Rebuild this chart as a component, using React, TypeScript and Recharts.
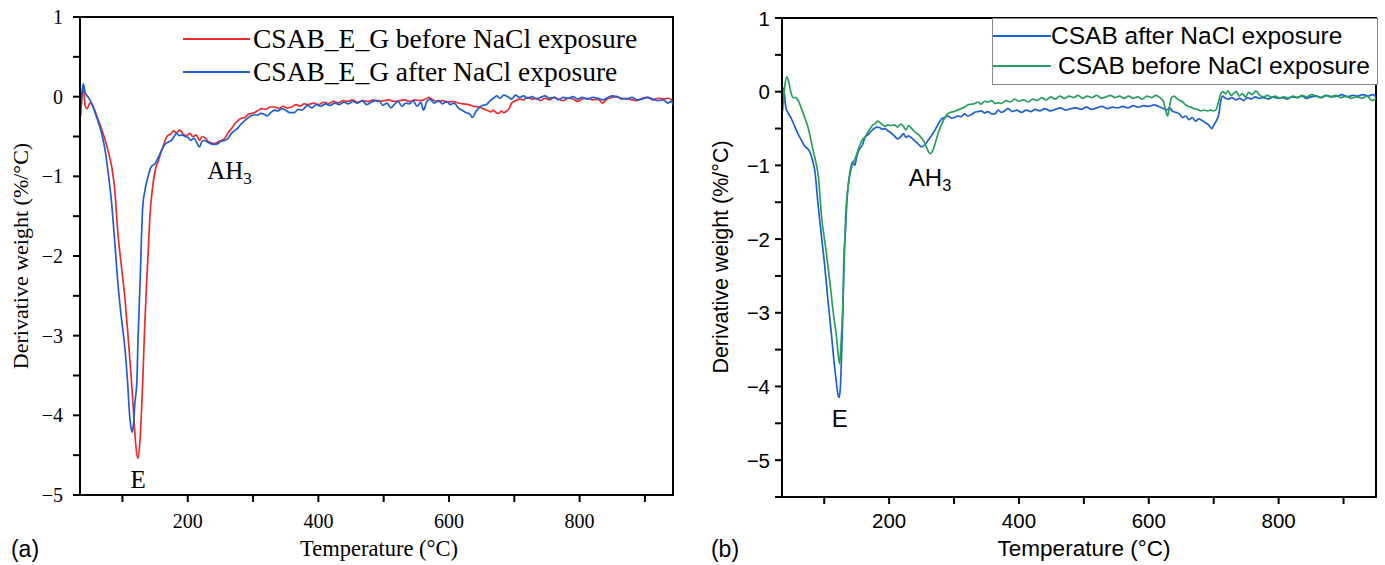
import React from "react";
import { LineChart, Line, XAxis, YAxis, ReferenceArea, ReferenceDot, Legend } from "recharts";

// (a) CSAB_E_G, [temperature °C, derivative weight %/°C]
const aBefore: [number, number][] = [
  [37, -0.1], [40, 0.12], [43, -0.12], [46, -0.15], [50, -0.08], [53, -0.09], [57, -0.16], [62, -0.27],
  [67, -0.38], [73, -0.53], [78, -0.68], [84, -0.9], [88, -1.15], [93, -1.71], [98, -2.1], [104, -2.55],
  [109, -3.05], [114, -3.59], [118, -4.1], [121, -4.42], [124, -4.54], [127, -4.3], [131, -3.59], [134, -2.9],
  [137, -2.34], [140, -1.85], [142, -1.51], [146, -1.15], [150, -0.93], [155, -0.8], [160, -0.68], [165, -0.56],
  [169, -0.49], [174, -0.47], [178, -0.43], [183, -0.45], [188, -0.42], [193, -0.47], [198, -0.49], [203, -0.46],
  [208, -0.5], [213, -0.48], [218, -0.55], [222, -0.5], [227, -0.52], [232, -0.57], [237, -0.58], [241, -0.59],
  [246, -0.57], [251, -0.55], [256, -0.53], [262, -0.45], [267, -0.4], [272, -0.34], [277, -0.3], [282, -0.27],
  [288, -0.26], [293, -0.22], [298, -0.21], [302, -0.2], [308, -0.17], [313, -0.15], [320, -0.16], [326, -0.13],
  [333, -0.13], [340, -0.15], [346, -0.12], [352, -0.14], [359, -0.13], [366, -0.1], [372, -0.12], [378, -0.09],
  [385, -0.1], [392, -0.08], [400, -0.1], [408, -0.07], [415, -0.09], [423, -0.06], [430, -0.08], [438, -0.05],
  [445, -0.06], [452, -0.04], [460, -0.07], [468, -0.05], [476, -0.06], [484, -0.04], [492, -0.06], [500, -0.05],
  [508, -0.04], [516, -0.06], [524, -0.05], [532, -0.04], [540, -0.06], [548, -0.04], [556, -0.05], [564, -0.03],
  [569, -0.01], [575, -0.04], [582, -0.06], [590, -0.05], [598, -0.07], [606, -0.06], [614, -0.08], [622, -0.09],
  [630, -0.1], [638, -0.12], [646, -0.13], [652, -0.15], [658, -0.17], [664, -0.19], [668, -0.17], [672, -0.2],
  [676, -0.21], [680, -0.18], [684, -0.2], [688, -0.18], [692, -0.15], [696, -0.08], [702, -0.05], [708, -0.03],
  [714, -0.04], [720, -0.01], [727, -0.03], [734, -0.02], [740, -0.05], [747, -0.02], [754, -0.04], [761, -0.01],
  [768, -0.03], [775, -0.05], [782, -0.02], [790, -0.03], [797, -0.06], [804, -0.03], [812, -0.02], [820, -0.04],
  [828, -0.03], [835, -0.08], [842, -0.03], [850, -0.01], [857, 0], [864, -0.03], [872, -0.02], [880, -0.04],
  [888, -0.05], [896, -0.02], [904, -0.01], [912, -0.04], [920, -0.02], [928, -0.03], [936, -0.02], [942, -0.05],
];

const aAfter: [number, number][] = [
  [36, -0.24], [38, 0.05], [40, 0.16], [43, 0.05], [47, 0.0], [52, -0.07], [58, -0.2], [63, -0.32],
  [69, -0.49], [74, -0.7], [78, -0.95], [83, -1.3], [88, -1.8], [93, -2.34], [98, -2.75], [104, -3.18],
  [108, -3.6], [111, -4.0], [113, -4.15], [115, -4.21], [117, -4.1], [119, -3.85], [122, -3.59], [124, -3.0],
  [127, -2.34], [129, -1.8], [131, -1.39], [135, -1.15], [139, -1.01], [144, -0.88], [150, -0.84], [155, -0.76],
  [160, -0.67], [165, -0.6], [170, -0.57], [175, -0.55], [179, -0.5], [183, -0.46], [187, -0.49], [191, -0.48],
  [196, -0.5], [200, -0.51], [205, -0.55], [209, -0.52], [214, -0.58], [218, -0.63], [222, -0.56], [226, -0.55],
  [230, -0.57], [235, -0.59], [240, -0.6], [246, -0.59], [251, -0.56], [256, -0.55], [261, -0.53], [266, -0.47],
  [271, -0.43], [276, -0.4], [281, -0.35], [286, -0.31], [292, -0.27], [297, -0.24], [302, -0.23], [307, -0.23],
  [312, -0.21], [317, -0.22], [322, -0.24], [327, -0.2], [333, -0.17], [338, -0.18], [344, -0.15], [350, -0.17],
  [356, -0.2], [363, -0.2], [369, -0.16], [375, -0.17], [383, -0.11], [390, -0.14], [397, -0.1], [404, -0.12],
  [411, -0.09], [418, -0.11], [425, -0.08], [432, -0.1], [439, -0.07], [446, -0.09], [453, -0.06], [460, -0.08],
  [467, -0.05], [474, -0.1], [481, -0.07], [488, -0.05], [493, -0.05], [499, -0.11], [505, -0.08], [511, -0.14],
  [516, -0.1], [522, -0.06], [528, -0.12], [534, -0.08], [539, -0.09], [545, -0.05], [551, -0.12], [557, -0.07],
  [561, -0.17], [566, -0.06], [571, -0.03], [577, -0.08], [584, -0.05], [590, -0.09], [596, -0.06], [602, -0.1],
  [608, -0.08], [614, -0.14], [620, -0.17], [626, -0.2], [632, -0.22], [636, -0.26], [641, -0.19], [646, -0.14],
  [651, -0.11], [657, -0.1], [663, -0.05], [668, -0.02], [673, 0.01], [678, -0.02], [684, 0.02], [690, 0.0],
  [696, -0.03], [702, 0.02], [708, -0.01], [714, 0.01], [720, -0.02], [727, 0.0], [734, -0.03], [740, -0.01],
  [747, 0.01], [754, -0.02], [761, -0.01], [768, -0.04], [775, -0.01], [782, -0.02], [790, 0.0], [797, -0.03],
  [804, -0.01], [812, -0.03], [820, -0.01], [828, -0.02], [836, -0.04], [843, -0.01], [850, 0.01], [857, 0.0],
  [864, -0.02], [872, -0.03], [880, -0.01], [888, -0.04], [896, -0.03], [904, -0.01], [912, -0.03], [920, -0.05],
  [928, -0.04], [935, -0.08], [940, -0.06], [944, -0.11],
];

// (b) CSAB
const bAfter: [number, number][] = [
  [36, 0.06], [38, 0.02], [41, -0.22], [44, -0.28], [49, -0.36], [55, -0.48], [60, -0.58], [65, -0.66],
  [70, -0.74], [74, -0.77], [78, -0.82], [82, -0.93], [86, -1.1], [90, -1.48], [95, -1.9], [101, -2.38],
  [106, -2.85], [111, -3.28], [115, -3.65], [119, -3.96], [121, -4.1], [123, -4.15], [125, -4.0], [127, -3.51],
  [129, -2.9], [130, -2.38], [133, -1.85], [135, -1.48], [138, -1.2], [141, -1.03], [144, -0.95], [147, -1.0],
  [151, -0.85], [155, -0.77], [159, -0.72], [163, -0.62], [168, -0.58], [173, -0.53], [177, -0.5], [181, -0.48],
  [186, -0.49], [190, -0.51], [194, -0.5], [198, -0.53], [203, -0.56], [208, -0.6], [213, -0.64], [218, -0.61],
  [222, -0.57], [226, -0.62], [230, -0.6], [235, -0.63], [240, -0.67], [245, -0.71], [250, -0.75], [255, -0.72],
  [260, -0.66], [265, -0.6], [270, -0.53], [275, -0.45], [281, -0.37], [286, -0.35], [291, -0.33], [296, -0.36],
  [301, -0.35], [306, -0.33], [311, -0.34], [316, -0.3], [321, -0.33], [327, -0.31], [332, -0.28], [337, -0.27],
  [342, -0.26], [347, -0.29], [352, -0.27], [358, -0.3], [363, -0.3], [368, -0.25], [373, -0.28], [378, -0.26],
  [383, -0.23], [390, -0.27], [397, -0.25], [404, -0.28], [411, -0.25], [418, -0.27], [425, -0.24], [432, -0.26],
  [440, -0.23], [448, -0.26], [456, -0.24], [464, -0.22], [472, -0.25], [480, -0.23], [488, -0.22], [496, -0.24],
  [504, -0.21], [512, -0.24], [520, -0.22], [528, -0.2], [536, -0.23], [544, -0.21], [552, -0.22], [560, -0.2],
  [568, -0.22], [576, -0.19], [584, -0.21], [592, -0.19], [600, -0.2], [608, -0.18], [615, -0.2], [621, -0.22],
  [627, -0.25], [632, -0.22], [637, -0.27], [642, -0.28], [647, -0.3], [652, -0.35], [657, -0.33], [662, -0.38],
  [667, -0.35], [672, -0.4], [677, -0.37], [682, -0.39], [687, -0.42], [692, -0.45], [697, -0.5], [701, -0.44],
  [705, -0.38], [708, -0.3], [711, -0.12], [714, -0.06], [718, -0.09], [723, -0.1], [728, -0.08], [734, -0.11],
  [740, -0.09], [746, -0.12], [752, -0.08], [758, -0.1], [764, -0.07], [770, -0.09], [777, -0.08], [784, -0.1],
  [791, -0.07], [798, -0.09], [806, -0.08], [813, -0.1], [820, -0.07], [828, -0.08], [836, -0.06], [843, -0.09],
  [850, -0.07], [858, -0.06], [866, -0.08], [874, -0.05], [882, -0.07], [890, -0.06], [898, -0.04], [906, -0.07],
  [914, -0.05], [922, -0.06], [930, -0.04], [938, -0.06], [945, -0.04], [950, -0.07],
];

const bBefore: [number, number][] = [
  [36, -0.26], [39, 0.05], [42, 0.2], [45, 0.15], [49, -0.02], [52, -0.08], [56, -0.08], [60, -0.12],
  [65, -0.23], [70, -0.35], [75, -0.48], [79, -0.63], [83, -0.8], [87, -0.95], [91, -1.15], [96, -1.7],
  [102, -2.1], [109, -2.6], [114, -3.0], [119, -3.33], [122, -3.6], [124, -3.69], [126, -3.4], [129, -2.83],
  [131, -2.25], [133, -1.7], [136, -1.35], [140, -1.11], [144, -0.98], [148, -0.9], [152, -0.8], [156, -0.7],
  [160, -0.64], [164, -0.6], [167, -0.55], [171, -0.5], [175, -0.45], [178, -0.44], [182, -0.4], [186, -0.42],
  [190, -0.45], [194, -0.47], [198, -0.45], [203, -0.46], [208, -0.45], [213, -0.48], [218, -0.44], [222, -0.47],
  [226, -0.52], [230, -0.46], [235, -0.5], [240, -0.55], [245, -0.58], [250, -0.63], [254, -0.68], [258, -0.76],
  [261, -0.82], [264, -0.84], [268, -0.78], [272, -0.67], [276, -0.55], [281, -0.44], [286, -0.35], [290, -0.3],
  [295, -0.28], [300, -0.27], [305, -0.25], [311, -0.23], [316, -0.21], [321, -0.18], [327, -0.17], [332, -0.16],
  [337, -0.14], [342, -0.17], [347, -0.13], [352, -0.14], [358, -0.12], [363, -0.16], [368, -0.15], [373, -0.16],
  [380, -0.12], [387, -0.14], [393, -0.1], [400, -0.13], [407, -0.11], [414, -0.14], [421, -0.1], [428, -0.12],
  [435, -0.08], [442, -0.11], [449, -0.07], [456, -0.1], [463, -0.06], [470, -0.09], [477, -0.06], [484, -0.08],
  [491, -0.05], [498, -0.09], [505, -0.06], [512, -0.08], [520, -0.05], [527, -0.09], [534, -0.07], [541, -0.05],
  [548, -0.08], [555, -0.06], [562, -0.09], [569, -0.06], [576, -0.09], [583, -0.07], [590, -0.1], [597, -0.06],
  [604, -0.08], [611, -0.05], [617, -0.08], [622, -0.12], [626, -0.25], [629, -0.33], [632, -0.2], [635, -0.08],
  [639, -0.06], [643, -0.09], [648, -0.12], [652, -0.14], [657, -0.18], [661, -0.2], [665, -0.21], [670, -0.23],
  [675, -0.24], [680, -0.26], [685, -0.25], [690, -0.26], [695, -0.25], [700, -0.26], [704, -0.24], [707, -0.15],
  [710, -0.05], [714, 0.0], [718, -0.03], [722, 0.01], [727, -0.05], [731, -0.02], [735, 0.0], [739, -0.06],
  [744, -0.03], [749, -0.07], [754, -0.01], [759, -0.04], [765, 0.01], [771, -0.05], [777, -0.07], [783, -0.05],
  [789, -0.08], [795, -0.06], [801, -0.09], [808, -0.07], [815, -0.09], [822, -0.06], [829, -0.08], [836, -0.05],
  [843, -0.07], [851, -0.04], [858, -0.06], [865, -0.08], [872, -0.05], [880, -0.07], [888, -0.05], [896, -0.08],
  [904, -0.06], [912, -0.09], [920, -0.07], [928, -0.09], [936, -0.06], [944, -0.12], [950, -0.09],
];

const xTicks = [100, 200, 300, 400, 500, 600, 700, 800, 900];
const yTicksA = [-5, -4.5, -4, -3.5, -3, -2.5, -2, -1.5, -1, -0.5, 0, 0.5, 1];
const yTicksB = [-5.5, -5, -4.5, -4, -3.5, -3, -2.5, -2, -1.5, -1, -0.5, 0, 0.5, 1];

const RED = "#ee2a2c";
const BLUE = "#1d5fd6";
const GREEN = "#27a05c";
const SERIF = "'Liberation Serif', 'Times New Roman', serif";
const SANS = "'Liberation Sans', Arial, sans-serif";

const toRows = (pts: [number, number][]) => pts.map(([t, v]) => ({ t, v }));
const fmtX = (v: number) => (v % 200 === 0 ? String(v) : "");
const fmtY = (v: number) => (Number.isInteger(v) ? (v < 0 ? "\u2212" + Math.abs(v) : String(v)) : "");

type Series = { name: string; color: string; pts: [number, number][] };

function LegendA({ items }: { items: Series[] }) {
  return (
    <div style={{ fontFamily: SERIF, fontSize: 27.5, color: "#000" }}>
      {items.map((s) => (
        <div key={s.name} style={{ display: "flex", alignItems: "center", height: 33, whiteSpace: "nowrap" }}>
          <svg width={67} height={4}><line x1={0} y1={2} x2={67} y2={2} stroke={s.color} strokeWidth={2} /></svg>
          <span style={{ marginLeft: 3 }}>{s.name}</span>
        </div>
      ))}
    </div>
  );
}

function LegendB({ items }: { items: Series[] }) {
  return (
    <div style={{ fontFamily: SANS, fontSize: 24.5, color: "#000", border: "1px solid #8a8a8a", width: 384, height: 63, padding: "2px 0 0 0", boxSizing: "content-box", background: "#fff" }}>
      {items.map((s, i) => (
        <div key={s.name} style={{ display: "flex", alignItems: "center", height: 30, whiteSpace: "nowrap" }}>
          <svg width={58} height={4}><line x1={0} y1={2} x2={58} y2={2} stroke={s.color} strokeWidth={2} /></svg>
          <span style={{ marginLeft: i === 0 ? 0 : 7 }}>{s.name}</span>
        </div>
      ))}
    </div>
  );
}

function Annot({ cx, cy, font, size, sub }: { cx: number; cy: number; font: string; size: number; sub?: boolean }) {
  return (
    <text x={cx} y={cy} textAnchor="middle" dominantBaseline="central" fontFamily={font} fontSize={size} fill="#000">
      {sub ? "AH" : "E"}
      {sub ? <tspan dy={7} fontSize={size * 0.68}>3</tspan> : null}
    </text>
  );
}

type PanelProps = {
  width: number;
  height: number;
  margin: { top: number; right: number; bottom: number; left: number };
  yWidth: number;
  xHeight: number;
  xDomain: [number, number];
  yDomain: [number, number];
  yTicks: number[];
  font: string;
  tickSize: number;
  xTickDy: number;
  yTickDx: number;
  series: Series[];
  legend: React.ReactNode;
  legendPos: { left: number; top: number };
  ahPos: [number, number];
  ePos: [number, number];
  annotSize: number;
};

function Panel(p: PanelProps) {
  const xTick = (t: any) => (
    <text x={t.x} y={t.y + p.xTickDy} textAnchor="middle" fontFamily={p.font} fontSize={p.tickSize} fill="#000">
      {fmtX(t.payload.value)}
    </text>
  );
  const yTick = (t: any) => (
    <text x={t.x - p.yTickDx} y={t.y} textAnchor="end" dominantBaseline="central" fontFamily={p.font} fontSize={p.tickSize} fill="#000">
      {fmtY(t.payload.value)}
    </text>
  );
  return (
    <LineChart width={p.width} height={p.height} margin={p.margin}>
      <XAxis
        type="number"
        dataKey="t"
        domain={p.xDomain}
        allowDataOverflow
        ticks={xTicks}
        interval={0}
        tick={xTick}
        tickSize={7}
        tickMargin={0}
        height={p.xHeight}
        stroke="#000"
        strokeWidth={2}
      />
      <YAxis
        type="number"
        domain={p.yDomain}
        allowDataOverflow
        ticks={p.yTicks}
        interval={0}
        tick={yTick}
        tickSize={7}
        tickMargin={0}
        width={p.yWidth}
        stroke="#000"
        strokeWidth={2}
      />
      <ReferenceArea x1={p.xDomain[0]} x2={p.xDomain[1]} y1={p.yDomain[0]} y2={p.yDomain[1]} fill="none" stroke="#000" strokeWidth={2} ifOverflow="visible" />
      {p.series.map((s) => (
        <Line
          key={s.name}
          data={toRows(s.pts)}
          dataKey="v"
          name={s.name}
          type="monotone"
          stroke={s.color}
          strokeWidth={1.7}
          dot={false}
          isAnimationActive={false}
        />
      ))}
      <ReferenceDot x={p.ahPos[0]} y={p.ahPos[1]} r={0} shape={(d: any) => <Annot cx={d.cx} cy={d.cy} font={p.font} size={p.annotSize} sub />} />
      <ReferenceDot x={p.ePos[0]} y={p.ePos[1]} r={0} shape={(d: any) => <Annot cx={d.cx} cy={d.cy} font={p.font} size={p.annotSize} />} />
      <Legend
        layout="vertical"
        align="center"
        verticalAlign="middle"
        content={() => p.legend}
        wrapperStyle={{ left: p.legendPos.left, top: p.legendPos.top, width: "auto" }}
      />
    </LineChart>
  );
}

const seriesA: Series[] = [
  { name: "CSAB_E_G before NaCl exposure", color: RED, pts: aBefore },
  { name: "CSAB_E_G after NaCl exposure", color: BLUE, pts: aAfter },
];
const seriesB: Series[] = [
  { name: "CSAB after NaCl exposure", color: BLUE, pts: bAfter },
  { name: "CSAB before NaCl exposure", color: GREEN, pts: bBefore },
];

const abs = (left: number, top: number, font: string, size: number): React.CSSProperties => ({
  position: "absolute", left, top, fontFamily: font, fontSize: size, color: "#000", whiteSpace: "nowrap", lineHeight: 1,
});

export default function App() {
  return (
    <div style={{ position: "absolute", left: 0, top: 0, width: 1385, height: 565, background: "#fff", overflow: "hidden" }}>
      <div style={{ position: "absolute", left: 0, top: 0 }}>
        <Panel
          width={690}
          height={565}
          margin={{ top: 17, right: 17, bottom: 0, left: 0 }}
          yWidth={80}
          xHeight={70}
          xDomain={[35, 943]}
          yDomain={[-5, 1]}
          yTicks={yTicksA}
          font={SERIF}
          tickSize={20}
          xTickDy={26}
          yTickDx={10}
          series={seriesA}
          legend={<LegendA items={seriesA} />}
          legendPos={{ left: 183, top: 22 }}
          ahPos={[264, -0.93]}
          ePos={[124, -4.8]}
          annotSize={25}
        />
      </div>
      <div style={{ position: "absolute", left: 695, top: 0 }}>
        <Panel
          width={690}
          height={565}
          margin={{ top: 18, right: 9, bottom: 0, left: 0 }}
          yWidth={87}
          xHeight={68}
          xDomain={[35, 950]}
          yDomain={[-5.5, 1]}
          yTicks={yTicksB}
          font={SANS}
          tickSize={20.5}
          xTickDy={24}
          yTickDx={5}
          series={seriesB}
          legend={<LegendB items={seriesB} />}
          legendPos={{ left: 297, top: 18 }}
          ahPos={[263, -1.17]}
          ePos={[124, -4.43]}
          annotSize={24}
        />
      </div>
      {/* axis titles */}
      <div style={{ ...abs(379, 549, SERIF, 22.5), transform: "translate(-50%, -50%)" }}>Temperature (°C)</div>
      <div style={{ ...abs(21, 256, SERIF, 22), transform: "translate(-50%, -50%) rotate(-90deg)" }}>Derivative weight (%/°C)</div>
      <div style={{ ...abs(1084, 549, SANS, 22.5), transform: "translate(-50%, -50%)" }}>Temperature (°C)</div>
      <div style={{ ...abs(722, 257, SANS, 21.5), transform: "translate(-50%, -50%) rotate(-90deg)" }}>Derivative weight (%/°C)</div>
      <div style={{ ...abs(25, 549, SANS, 23), transform: "translate(-50%, -50%)" }}>(a)</div>
      <div style={{ ...abs(725, 549, SANS, 23), transform: "translate(-50%, -50%)" }}>(b)</div>
    </div>
  );
}
